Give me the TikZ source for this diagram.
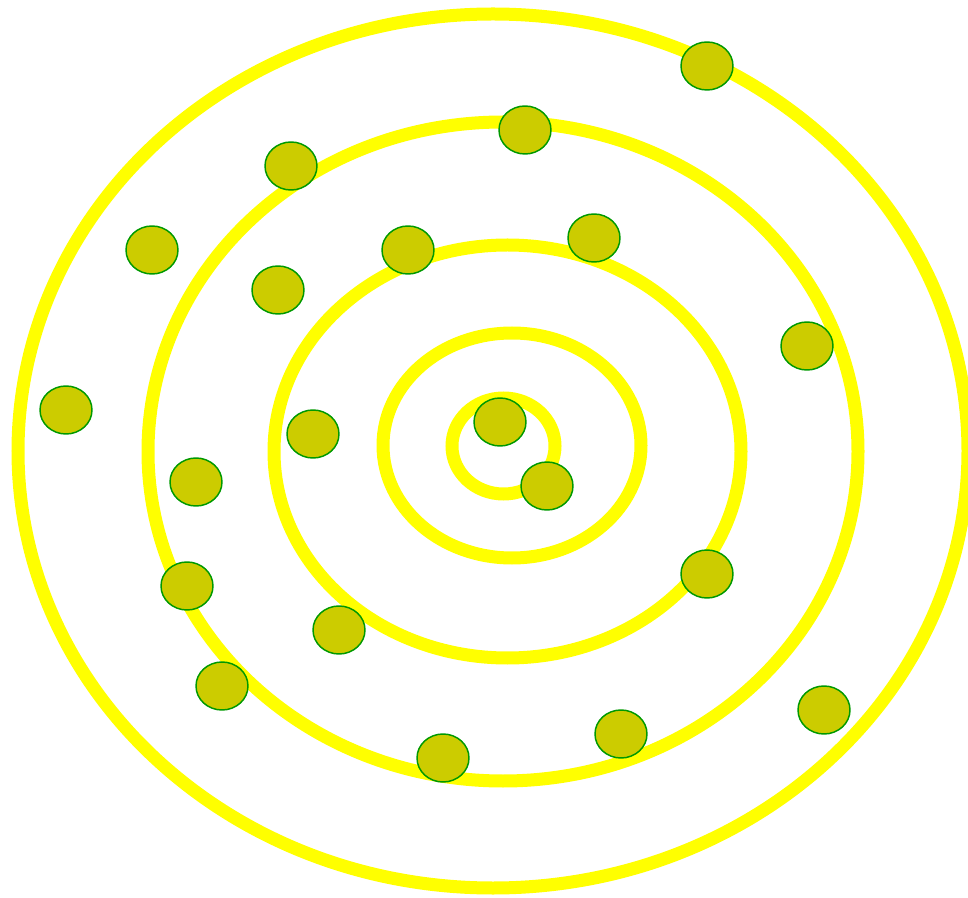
\documentclass[tikz,border=0pt]{standalone}
\usepackage{tikz}
\usetikzlibrary{shapes.geometric}
\definecolor{ringyellow}{HTML}{FFFF00}
\definecolor{dotfill}{HTML}{CCCC00}
\definecolor{dotedge}{HTML}{009900}
\newdimen\pxu
\pxu=0.75pt
\tikzset{
  ring/.style={draw=ringyellow, line width=9.75pt},
  dot/.style={ellipse, draw=dotedge, fill=dotfill, line width=1.1pt, inner sep=0pt,
    minimum width=52\pxu, minimum height=48\pxu},
}

\begin{document}
\begin{tikzpicture}[x=0.75pt, y=-0.75pt]
  \useasboundingbox (0,0) rectangle (968,898);

  % Rings
  \foreach \cx/\cy/\rx/\ry in {493/451/475/437, 503/451.5/355/329.5, 507.5/451.5/233.5/206.5,
                                512/445.5/129/112.5, 503.5/446/51.5/48} {
    \draw[ring] (\cx,\cy) ellipse [x radius=\rx, y radius=\ry];
  }

  % Dots
  \foreach \x/\y [count=\i] in {707/66, 525/130, 291/166, 152/250, 408/250, 594/238,
      278/290, 807/346, 66/410, 313/434, 500/422, 196/482, 547/486, 187/586,
      707/574, 339/630, 222/686, 824/710, 621/734, 443/758} {
    \node[dot] (d\i) at (\x,\y) {};
  }
\end{tikzpicture}
\end{document}
